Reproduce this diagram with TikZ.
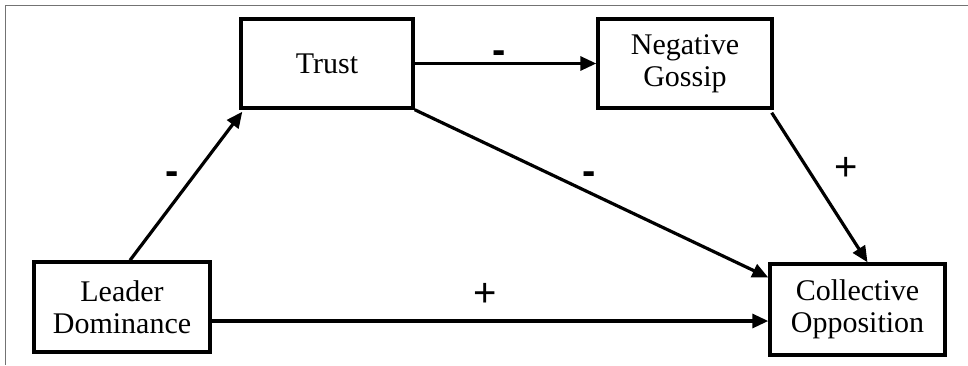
\documentclass[tikz,border=0pt]{standalone}
\usepackage{fontspec}
\setmainfont{Liberation Serif}
\newfontfamily\signfont{Liberation Sans}
\usetikzlibrary{arrows.meta}
\begin{document}
\begin{tikzpicture}[x=1pt,y=-1pt,
  box/.style={draw=black,line width=3.4pt,minimum width=#1,align=center,inner sep=0pt,
    font=\fontsize{30}{32}\selectfont},
  box/.default=173pt,
  link/.style={line width=3.2pt,-{Triangle[length=16pt,width=14pt]}},
  sign/.style={font=\signfont\fontsize{40}{40}\selectfont,inner sep=0pt,anchor=base},
  minus/.style={sign,font=\signfont\bfseries\fontsize{40}{40}\selectfont},
  frameline/.style={draw=black!55,line width=1.5pt}]
\useasboundingbox (0,0) rectangle (968,365);
\coordinate (ftop) at (968,5.7);
\coordinate (fcorner) at (5.7,5.7);
\coordinate (fbot) at (5.7,365);
\draw[frameline] (ftop) -- (fcorner) -- (fbot);

\node[box=172pt,minimum height=89pt] (trust) at (327,63.5) {Trust};
\node[box=174pt,minimum height=89pt] (ng) at (685,63.5) {Negative\\Gossip};
\node[box=176pt,minimum height=90pt] (ld) at (122,307) {Leader\\Dominance};
\node[box=175pt,minimum height=91pt] (co) at (857.5,309.5) {Collective\\Opposition};

\draw[link] (trust.east) -- (ng.west);
\draw[link] ([xshift=8pt]ld.north) -- ([xshift=3pt,yshift=-2pt]trust.south west);
\draw[link] (trust.south east) -- ([yshift=32pt]co.west);
\draw[link] ([xshift=-2pt,yshift=-3pt]ng.south east) -- ([xshift=10pt]co.north);
\draw[link] ([yshift=-14pt]ld.east) -- ([yshift=-14pt]ld.east -| co.west);

\node[minus] (s1) at (499,63) {-};
\node[minus] (s2) at (172,184) {-};
\node[minus] (s3) at (589,184) {-};
\node[sign] (s4) at (846,180) {+};
\node[sign] (s5) at (485,306) {+};
\end{tikzpicture}
\end{document}
